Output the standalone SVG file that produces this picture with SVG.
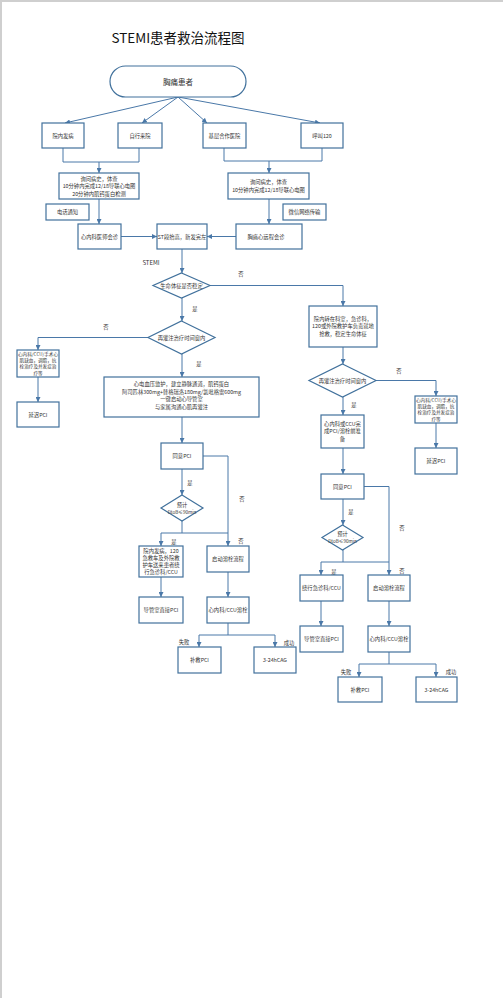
<svg xmlns="http://www.w3.org/2000/svg" width="503" height="998" viewBox="0 0 503 998">
<style>
.n rect,.n path{fill:#fff;stroke:#41719c;stroke-width:1.2}
.n text,.lb{font-family:"Noto Sans CJK SC","Liberation Sans",sans-serif;font-size:5.3px;fill:#333;text-anchor:middle;dominant-baseline:central}
.n .s{font-size:4.6px}
#connectors path{fill:none;stroke:#4a78a8;stroke-width:1}
.title{font-family:"Noto Sans CJK SC","Liberation Sans",sans-serif;font-size:13.5px;fill:#111;text-anchor:middle}
</style>
<defs>
<marker id="ar" markerUnits="userSpaceOnUse" markerWidth="5" markerHeight="5" refX="5" refY="2.5" orient="auto">
<path d="M0,0 L5,2.5 L0,5 z" fill="#4a78a8"/>
</marker>
</defs>
<rect x="0" y="0" width="503" height="998" fill="#fff"/>
<path d="M1,998 V1 H503" fill="none" stroke="#cfcfcf" stroke-width="2"/>
<text class="title" x="178" y="43">STEMI患者救治流程图</text>

<g id="connectors">
<path d="M178,97 L65,123" marker-end="url(#ar)"/>
<path d="M178,97 L142,123" marker-end="url(#ar)"/>
<path d="M178,97 L207,123" marker-end="url(#ar)"/>
<path d="M178,97 L320,123" marker-end="url(#ar)"/>
<path d="M63,148 V162 H139 V148"/>
<path d="M99,162 V173" marker-end="url(#ar)"/>
<path d="M224,148 V161 H322 V148"/>
<path d="M269,161 V173" marker-end="url(#ar)"/>
<path d="M99,199 V224" marker-end="url(#ar)"/>
<path d="M269,199 V224" marker-end="url(#ar)"/>
<path d="M121,236.5 H157" marker-end="url(#ar)"/>
<path d="M236,236.5 H207" marker-end="url(#ar)"/>
<path d="M182,249 V273" marker-end="url(#ar)"/>
<path d="M210,285.5 H343 V306" marker-end="url(#ar)"/>
<path d="M182,298 V321" marker-end="url(#ar)"/>
<path d="M148,337.5 H38 V350" marker-end="url(#ar)"/>
<path d="M38,377 V402" marker-end="url(#ar)"/>
<path d="M182,354 V377" marker-end="url(#ar)"/>
<path d="M182,417 V443" marker-end="url(#ar)"/>
<path d="M203,456 H228 V546" marker-end="url(#ar)"/>
<path d="M182,469 V495" marker-end="url(#ar)"/>
<path d="M182,521 V533 H161 V546" marker-end="url(#ar)"/>
<path d="M182,533 H228"/>
<path d="M161,577 V597" marker-end="url(#ar)"/>
<path d="M228,572 V597" marker-end="url(#ar)"/>
<path d="M228,623 V635 H199 V647" marker-end="url(#ar)"/>
<path d="M228,635 H275 V647" marker-end="url(#ar)"/>
<path d="M343,347 V364" marker-end="url(#ar)"/>
<path d="M376,380.5 H436 V396" marker-end="url(#ar)"/>
<path d="M436,423 V448" marker-end="url(#ar)"/>
<path d="M343,397 V415" marker-end="url(#ar)"/>
<path d="M343,448 V474" marker-end="url(#ar)"/>
<path d="M364,486.5 H389 V575" marker-end="url(#ar)"/>
<path d="M343,499 V525" marker-end="url(#ar)"/>
<path d="M343,550 V562 H321 V575" marker-end="url(#ar)"/>
<path d="M343,562 H389"/>
<path d="M321,601 V626" marker-end="url(#ar)"/>
<path d="M389,601 V626" marker-end="url(#ar)"/>
<path d="M389,652 V664 H359 V677" marker-end="url(#ar)"/>
<path d="M389,664 H436 V677" marker-end="url(#ar)"/>
</g>

<g id="labels">
<text class="lb" x="151" y="262" style="font-size:6px">STEMI</text>
<text class="lb" x="241" y="274">否</text>
<text class="lb" x="195" y="309">是</text>
<text class="lb" x="106" y="327">否</text>
<text class="lb" x="199" y="364">是</text>
<text class="lb" x="190" y="483">是</text>
<text class="lb" x="242" y="499">否</text>
<text class="lb" x="174" y="542">是</text>
<text class="lb" x="241" y="541">否</text>
<text class="lb" x="184" y="642">失败</text>
<text class="lb" x="289" y="643">成功</text>
<text class="lb" x="399" y="371">否</text>
<text class="lb" x="354" y="405">是</text>
<text class="lb" x="351" y="512">是</text>
<text class="lb" x="402" y="528">否</text>
<text class="lb" x="334" y="572">是</text>
<text class="lb" x="402" y="571">否</text>
<text class="lb" x="346" y="672">失败</text>
<text class="lb" x="451" y="672">成功</text>
</g>

<g id="n-start" class="n"><rect x="110" y="66" width="136" height="31" rx="15.5"/><text x="178" y="81.5" style="font-size:7.5px">胸痛患者</text></g>
<g id="n-yuannei" class="n"><rect x="42" y="123" width="42" height="25"/><text x="63" y="135.5">院内发病</text></g>
<g id="n-zixing" class="n"><rect x="118" y="123" width="44" height="25"/><text x="140" y="135.5">自行来院</text></g>
<g id="n-jiceng" class="n"><rect x="203" y="123" width="43" height="25"/><text x="224.5" y="135.5">基层合作医院</text></g>
<g id="n-hujiao" class="n"><rect x="301" y="123" width="42" height="25"/><text x="322" y="135.5">呼叫120</text></g>
<g id="n-xunwen1" class="n"><rect x="59" y="173" width="80" height="26"/><text x="99" y="178.5">询问病史，体查</text><text x="99" y="186">10分钟内完成12/18导联心电图</text><text x="99" y="193.5">20分钟内肌钙蛋白检测</text></g>
<g id="n-xunwen2" class="n"><rect x="228" y="173" width="81" height="26"/><text x="268.5" y="182">询问病史，体查</text><text x="268.5" y="189.5">10分钟内完成12/18导联心电图</text></g>
<g id="n-dianhua" class="n"><rect x="46" y="204" width="43" height="16"/><text x="67.5" y="212">电话通知</text></g>
<g id="n-weixin" class="n"><rect x="283" y="204" width="43" height="16"/><text x="304.5" y="212">微信网络传输</text></g>
<g id="n-huizhen" class="n"><rect x="78" y="224" width="43" height="25"/><text x="99.5" y="236.5">心内科医师会诊</text></g>
<g id="n-st" class="n"><rect x="157" y="224" width="50" height="25"/><text x="182" y="236.5">ST段抬高，新发完左</text></g>
<g id="n-yuancheng" class="n"><rect x="236" y="224" width="66" height="25"/><text x="266" y="236.5">胸痛心远程会诊</text></g>
<g id="n-d1" class="n"><path d="M181.5,273 L210,285.5 L181.5,298 L153,285.5 Z"/><text x="181.5" y="285.5">生命体征是否稳定</text></g>
<g id="n-d2" class="n"><path d="M181.5,321 L215,337.5 L181.5,354 L148,337.5 Z"/><text x="181.5" y="337.5">再灌注治疗时间窗内</text></g>
<g id="n-l-ccu" class="n"><rect x="17" y="350" width="42" height="27"/><text class="s" x="38" y="353.7">心内科/CCU/手术心</text><text class="s" x="38" y="360">肌缺血，调脂，抗</text><text class="s" x="38" y="366.3">栓治疗及并发症治</text><text class="s" x="38" y="372.6">疗等</text></g>
<g id="n-l-yanchi" class="n"><rect x="17" y="402" width="42" height="25"/><text x="38" y="414.5">延迟PCI</text></g>
<g id="n-big" class="n"><rect x="104" y="377" width="155" height="40"/><text x="181.5" y="384">心电血压监护，建立静脉通道，肌钙蛋白</text><text x="181.5" y="391.5">阿司匹林300mg+替格瑞洛180mg/氯吡格雷600mg</text><text x="181.5" y="399">一键启动心导管室</text><text x="181.5" y="406.5">与家属沟通心肌再灌注</text></g>
<g id="n-l-tongyi" class="n"><rect x="161" y="443" width="42" height="26"/><text x="182" y="456">同意PCI</text></g>
<g id="n-l-d3" class="n"><path d="M182,495 L203,508 L182,521 L161,508 Z"/><text x="182" y="504.5">预计</text><text class="s" x="182" y="511.5">DtoB≤90min</text></g>
<g id="n-l-raoxing" class="n"><rect x="139" y="546" width="44" height="31"/><text x="161" y="550.5">院内发病，120</text><text x="161" y="557.5">急救车及外院救</text><text x="161" y="564.5">护车送来患者绕</text><text x="161" y="571.5">行急诊科/CCU</text></g>
<g id="n-l-rongshuan" class="n"><rect x="207" y="546" width="42" height="26"/><text x="228" y="559">启动溶栓流程</text></g>
<g id="n-l-daoguan" class="n"><rect x="139" y="597" width="44" height="26"/><text x="161" y="610">导管室直接PCI</text></g>
<g id="n-l-ccurs" class="n"><rect x="207" y="597" width="42" height="26"/><text x="228" y="610">心内科/CCU溶栓</text></g>
<g id="n-l-bujiu" class="n"><rect x="178" y="647" width="43" height="26"/><text x="199.5" y="660">补救PCI</text></g>
<g id="n-l-cag" class="n"><rect x="254" y="647" width="42" height="26"/><text x="275" y="660">3-24hCAG</text></g>
<g id="n-r-qiangjiu" class="n"><rect x="309" y="306" width="68" height="41"/><text x="343" y="318.5">院内转在科室，急诊科，</text><text x="343" y="326">120或外院救护车负责就地</text><text x="343" y="333.5">抢救，稳定生命体征</text></g>
<g id="n-r-d4" class="n"><path d="M342.5,364 L376,380.5 L342.5,397 L309,380.5 Z"/><text x="342.5" y="380.5">再灌注治疗时间窗内</text></g>
<g id="n-r-ccu" class="n"><rect x="415" y="396" width="42" height="27"/><text class="s" x="436" y="399.7">心内科/CCU/手术心</text><text class="s" x="436" y="406">肌缺血，调脂，抗</text><text class="s" x="436" y="412.3">栓治疗及并发症治</text><text class="s" x="436" y="418.6">疗等</text></g>
<g id="n-r-yanchi" class="n"><rect x="415" y="448" width="42" height="26"/><text x="436" y="461">延迟PCI</text></g>
<g id="n-r-zhunbei" class="n"><rect x="321" y="415" width="43" height="33"/><text x="342.5" y="423.5">心内科或CCU完</text><text x="342.5" y="431">成PCI/溶栓前准</text><text x="342.5" y="438.5">备</text></g>
<g id="n-r-tongyi" class="n"><rect x="321" y="474" width="43" height="25"/><text x="342.5" y="486.5">同意PCI</text></g>
<g id="n-r-d5" class="n"><path d="M342.5,525 L363,537.5 L342.5,550 L322,537.5 Z"/><text x="342.5" y="534">预计</text><text class="s" x="342.5" y="541">DtoB≤90min</text></g>
<g id="n-r-raoxing" class="n"><rect x="300" y="575" width="43" height="26"/><text x="321.5" y="588">绕行急诊科/CCU</text></g>
<g id="n-r-rongshuan" class="n"><rect x="368" y="575" width="42" height="26"/><text x="389" y="588">启动溶栓流程</text></g>
<g id="n-r-daoguan" class="n"><rect x="300" y="626" width="43" height="26"/><text x="321.5" y="639">导管室直接PCI</text></g>
<g id="n-r-ccurs" class="n"><rect x="368" y="626" width="42" height="26"/><text x="389" y="639">心内科/CCU溶栓</text></g>
<g id="n-r-bujiu" class="n"><rect x="338" y="677" width="44" height="25"/><text x="360" y="689.5">补救PCI</text></g>
<g id="n-r-cag" class="n"><rect x="416" y="677" width="41" height="25"/><text x="436.5" y="689.5">3-24hCAG</text></g>
</svg>
